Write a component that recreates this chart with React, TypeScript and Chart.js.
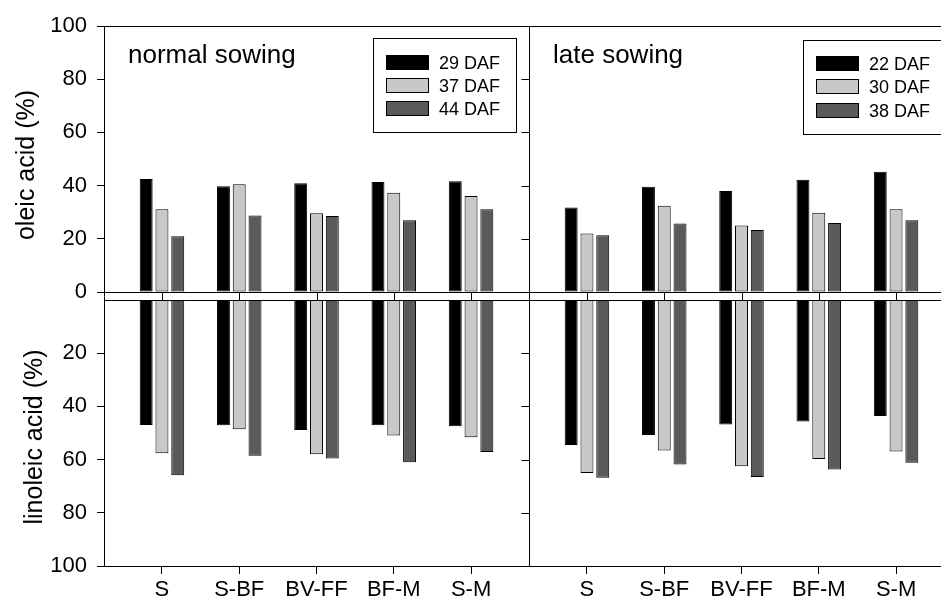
import React, { useEffect, useRef } from "react";
import { Chart, registerables } from "chart.js";

Chart.register(...registerables);

// ---------- data ----------
const categories = ["S", "S-BF", "BV-FF", "BF-M", "S-M"];
const normalSeriesNames = ["29 DAF", "37 DAF", "44 DAF"];
const lateSeriesNames = ["22 DAF", "30 DAF", "38 DAF"];

// oleic acid (%), normal sowing
const normalOleic29 = [42.5, 39.8, 40.9, 41.4, 41.6];
const normalOleic37 = [31.1, 40.5, 29.6, 37.3, 36.1];
const normalOleic44 = [21.0, 28.8, 28.6, 27.0, 31.1];
// linoleic acid (%), normal sowing
const normalLinoleic29 = [47.0, 47.1, 48.9, 47.1, 47.5];
const normalLinoleic37 = [57.6, 48.6, 58.0, 50.9, 51.6];
const normalLinoleic44 = [65.9, 58.6, 59.6, 61.0, 57.1];

// oleic acid (%), late sowing
const lateOleic22 = [31.8, 39.6, 38.0, 42.2, 45.2];
const lateOleic30 = [22.0, 32.4, 25.0, 29.8, 31.1];
const lateOleic38 = [21.3, 25.8, 23.3, 25.9, 27.0];
// linoleic acid (%), late sowing
const lateLinoleic22 = [54.5, 50.8, 46.8, 45.7, 43.6];
const lateLinoleic30 = [65.0, 56.6, 62.5, 59.8, 57.0];
const lateLinoleic38 = [66.8, 61.8, 66.5, 63.7, 61.2];

const yTickValues = [0, 20, 40, 60, 80, 100];

// ---------- layout / style ----------
const FONT = "'Liberation Sans', Arial, Helvetica, sans-serif";
const COLORS = ["#000000", "#c8c8c8", "#5a5a5a"];
const GAP = 3; // gap between upper and lower halves, in axis units
const EDGE = 0.75; // panel margin around first/last category, in category units
const PANEL_STEP = categories.length - 1 + 2 * EDGE; // 5.5
const AXIS_MAX = 100;

const panels = [
  {
    offset: 0,
    title: "normal sowing",
    names: normalSeriesNames,
    oleic: [normalOleic29, normalOleic37, normalOleic44],
    linoleic: [normalLinoleic29, normalLinoleic37, normalLinoleic44],
  },
  {
    offset: PANEL_STEP,
    title: "late sowing",
    names: lateSeriesNames,
    oleic: [lateOleic22, lateOleic30, lateOleic38],
    linoleic: [lateLinoleic22, lateLinoleic30, lateLinoleic38],
  },
];

const upperToAxis = (v: number) => v;
const lowerToAxis = (v: number) => -GAP - v;

const decorPlugin = {
  id: "decor",
  afterDraw(chart: any) {
    const ctx = chart.ctx as CanvasRenderingContext2D;
    const { left, right, top, bottom } = chart.chartArea;
    const xs = chart.scales.x;
    const ys = chart.scales.y;
    ctx.save();
    ctx.strokeStyle = "#000";
    ctx.lineWidth = 1;

    const hline = (x1: number, x2: number, y: number) => {
      const yy = Math.round(y) + 0.5;
      ctx.beginPath();
      ctx.moveTo(x1, yy);
      ctx.lineTo(x2, yy);
      ctx.stroke();
    };
    const vline = (x: number, y1: number, y2: number) => {
      const xx = Math.round(x) + 0.5;
      ctx.beginPath();
      ctx.moveTo(xx, y1);
      ctx.lineTo(xx, y2);
      ctx.stroke();
    };

    // top frame
    hline(left, right, top);

    // strip between upper and lower halves
    const y0 = ys.getPixelForValue(upperToAxis(0));
    const yg = ys.getPixelForValue(lowerToAxis(0));
    ctx.fillStyle = "#fff";
    ctx.fillRect(left + 1, Math.round(y0) + 1, right - left, Math.round(yg) - Math.round(y0) - 1);
    hline(left, right, y0);
    hline(left, right, yg);
    panels.forEach((p) => {
      categories.forEach((_, i) => {
        vline(xs.getPixelForValue(p.offset + i), Math.round(y0), Math.round(yg) + 1);
      });
    });

    // panel divider with outward ticks
    const divX = xs.getPixelForValue(PANEL_STEP - EDGE);
    vline(divX, top, bottom);
    const dx = Math.round(divX) + 0.5;
    const tickVals = [
      ...yTickValues.map(upperToAxis),
      ...yTickValues.filter((v) => v > 0).map(lowerToAxis),
    ];
    tickVals.forEach((v) => {
      const yy = Math.round(ys.getPixelForValue(v)) + 0.5;
      ctx.beginPath();
      ctx.moveTo(dx - 8, yy);
      ctx.lineTo(dx, yy);
      ctx.stroke();
    });

    // axis titles
    ctx.fillStyle = "#000";
    ctx.font = `25px ${FONT}`;
    ctx.textAlign = "center";
    ctx.textBaseline = "alphabetic";
    const upperMid = (ys.getPixelForValue(upperToAxis(0)) + ys.getPixelForValue(upperToAxis(AXIS_MAX))) / 2;
    const lowerMid = (ys.getPixelForValue(lowerToAxis(0)) + ys.getPixelForValue(lowerToAxis(AXIS_MAX))) / 2;
    ctx.save();
    ctx.translate(34, upperMid + 6);
    ctx.rotate(-Math.PI / 2);
    ctx.fillText("oleic acid (%)", 0, 0);
    ctx.restore();
    ctx.save();
    ctx.translate(42, lowerMid + 4);
    ctx.rotate(-Math.PI / 2);
    ctx.fillText("linoleic acid (%)", 0, 0);
    ctx.restore();

    // panel titles and legends
    const legendLayouts = [
      { boxX: 373, boxY: 38, rowY: [62, 85, 108] },
      { boxX: 803, boxY: 40, rowY: [63, 86.5, 110] },
    ];
    panels.forEach((p, pi) => {
      const px = xs.getPixelForValue(p.offset - EDGE);
      ctx.font = `26px ${FONT}`;
      ctx.textAlign = "left";
      ctx.textBaseline = "alphabetic";
      ctx.fillStyle = "#000";
      ctx.fillText(p.title, px + 24, 63);

      const L = legendLayouts[pi];
      ctx.fillStyle = "#fff";
      ctx.fillRect(L.boxX, L.boxY, 143, 94);
      ctx.strokeStyle = "#000";
      ctx.strokeRect(L.boxX + 0.5, L.boxY + 0.5, 143, 94);
      p.names.forEach((name, si) => {
        const cy = L.rowY[si];
        ctx.fillStyle = COLORS[si];
        ctx.fillRect(L.boxX + 13, Math.round(cy - 7.5), 43, 15);
        ctx.strokeStyle = "#000";
        ctx.strokeRect(L.boxX + 13.5, Math.round(cy - 7.5) + 0.5, 42, 14);
        ctx.fillStyle = "#000";
        ctx.font = `18px ${FONT}`;
        ctx.fillText(name, L.boxX + 66, cy + 6.5);
      });
    });
    ctx.restore();
  },
};

export default function App() {
  const canvasRef = useRef<HTMLCanvasElement | null>(null);

  useEffect(() => {
    const canvas = canvasRef.current;
    if (!canvas) return;
    Chart.defaults.font.family = FONT;
    Chart.defaults.color = "#000";

    const datasets: any[] = [];
    panels.forEach((p) => {
      p.names.forEach((name, si) => {
        const common = {
          label: name,
          stack: "s" + si,
          backgroundColor: COLORS[si],
          borderColor: "#000",
          borderWidth: 1,
          borderSkipped: false,
          categoryPercentage: 0.613,
          barPercentage: 0.82,
        };
        datasets.push({
          ...common,
          data: p.oleic[si].map((v, i) => ({ x: p.offset + i, y: [upperToAxis(0), upperToAxis(v)] })),
        });
        datasets.push({
          ...common,
          data: p.linoleic[si].map((v, i) => ({ x: p.offset + i, y: [lowerToAxis(0), lowerToAxis(v)] })),
        });
      });
    });

    const xTickPositions: number[] = [];
    const xTickLabels: string[] = [];
    panels.forEach((p) =>
      categories.forEach((c, i) => {
        xTickPositions.push(p.offset + i);
        xTickLabels.push(c);
      })
    );
    const yTicks = [
      ...yTickValues.filter((v) => v > 0).map(lowerToAxis).reverse(),
      ...yTickValues.map(upperToAxis),
    ];

    const chart = new Chart(canvas, {
      type: "bar",
      data: { datasets },
      plugins: [decorPlugin],
      options: {
        animation: false,
        responsive: false,
        devicePixelRatio: 1,
        layout: { padding: { left: 0, top: 26, right: 6, bottom: 0 } },
        plugins: { legend: { display: false }, tooltip: { enabled: false } },
        scales: {
          x: {
            type: "linear",
            offset: false,
            min: -EDGE,
            max: PANEL_STEP * 2 - EDGE,
            grid: { display: true, offset: false, drawOnChartArea: false, drawTicks: true, tickLength: 8, color: "#000" },
            border: { display: true, color: "#000", width: 1 },
            ticks: {
              autoSkip: false,
              maxRotation: 0,
              padding: 3,
              font: { size: 22 },
              color: "#000",
              callback: (_v: any, index: number) => xTickLabels[index],
            },
            afterBuildTicks: (scale: any) => {
              scale.ticks = xTickPositions.map((v) => ({ value: v }));
            },
            afterFit: (scale: any) => {
              scale.height = 33;
            },
          } as any,
          y: {
            type: "linear",
            stacked: false,
            min: lowerToAxis(AXIS_MAX),
            max: upperToAxis(AXIS_MAX),
            grid: { display: true, drawOnChartArea: false, drawTicks: true, tickLength: 7, color: "#000" },
            border: { display: true, color: "#000", width: 1 },
            ticks: {
              autoSkip: false,
              padding: 10,
              font: { size: 22 },
              color: "#000",
              callback: (v: any) => (v >= 0 ? String(v) : String(Math.round(-(v + GAP)))),
            },
            afterBuildTicks: (scale: any) => {
              scale.ticks = yTicks.map((v) => ({ value: v }));
            },
            afterFit: (scale: any) => {
              scale.width = 104;
            },
          } as any,
        },
      },
    });
    return () => chart.destroy();
  }, []);

  return (
    <div
      style={{
        position: "absolute",
        left: 0,
        top: 0,
        width: 941,
        height: 599,
        overflow: "hidden",
        background: "#fff",
      }}
    >
      <canvas ref={canvasRef} width={960} height={599} style={{ width: 960, height: 599, display: "block" }} />
    </div>
  );
}
